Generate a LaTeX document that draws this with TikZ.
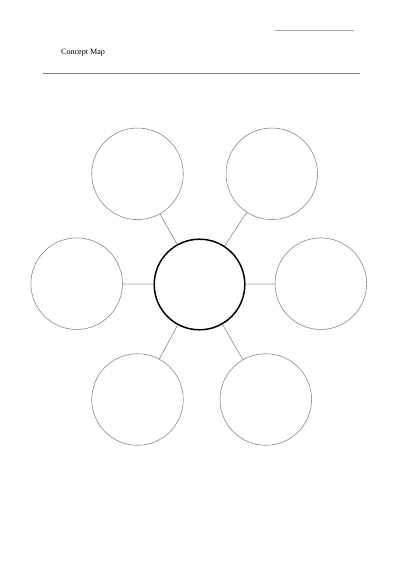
\documentclass[tikz,border=0pt]{standalone}
\usepackage{fontspec}
\setmainfont{Liberation Serif}
\usepackage{xcolor}

\begin{document}
\begin{tikzpicture}[x=0.0521cm, y=-0.0521cm]
%style for outer concept node
\tikzstyle{cnode} = [circle, draw=black!50, line width=0.8pt, minimum size=4.77cm, inner sep=0pt]

%style for main concept node
\tikzstyle{mnode} = [circle, draw=black, line width=2.2pt, minimum size=4.72cm, inner sep=0pt]

%style for connecting lines
\tikzstyle{link} = [draw=black!50, line width=0.8pt]

\useasboundingbox[fill=white] (0,0) rectangle (403,570);

%header
\node[anchor=west, inner sep=0pt, font=\fontsize{12}{14}\selectfont](title) at (61,53) {Concept Map};
\coordinate (nameL) at (275,30.7);
\coordinate (nameR) at (354,30.7);
\coordinate (ruleL) at (42.7,73.3);
\coordinate (ruleR) at (360,73.3);
\draw[draw=black!35, line width=1pt] (nameL) -- (nameR);
\draw[draw=black!50, line width=0.8pt] (ruleL) -- (ruleR);

%place nodes
\node[mnode](main) at (199.5,284.5) {};
\node[cnode](upLeft) at (137.5,173.8) {};
\node[cnode](upRight) at (271.8,173.8) {};
\node[cnode](left) at (76.7,283.7) {};
\node[cnode](right) at (320.8,283.7) {};
\node[cnode](lowLeft) at (137.5,399.5) {};
\node[cnode](lowRight) at (265.8,399.5) {};

%connect nodes with lines
\draw[link] (upLeft) -- (main);
\draw[link] (upRight) -- (main);
\draw[link] (left) -- (main);
\draw[link] (right) -- (main);
\draw[link] (lowLeft) -- (main);
\draw[link] (lowRight) -- (main);
\end{tikzpicture}
\end{document}
